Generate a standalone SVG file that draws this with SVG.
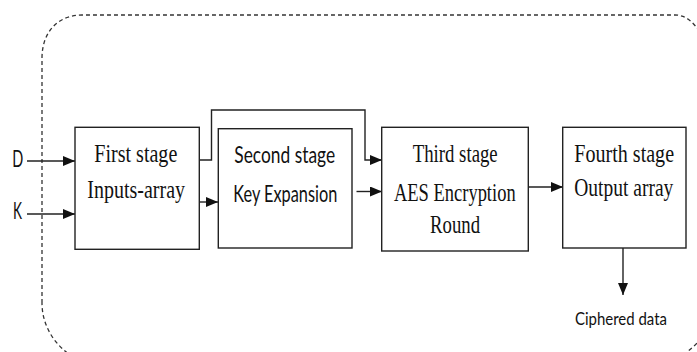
<svg xmlns="http://www.w3.org/2000/svg" width="697" height="352" viewBox="0 0 697 352">
  <style>
    .box { fill: #ffffff; stroke: #222222; stroke-width: 1.4; }
    .wire { fill: none; stroke: #222222; stroke-width: 1.4; }
    .frame { fill: none; stroke: #333333; stroke-width: 1.3; stroke-dasharray: 4 3; }
    .serif { font-family: "Liberation Serif", "Times New Roman", serif; font-size: 26px; fill: #111111; text-anchor: middle; }
    .sans { font-family: Lato, "Liberation Sans", sans-serif; font-size: 24px; fill: #111111; text-anchor: middle; }
    .small { font-family: Lato, "Liberation Sans", sans-serif; font-size: 17px; fill: #111111; text-anchor: middle; }
  </style>
  <defs>
    <marker id="arrow" viewBox="0 0 12 10" refX="12" refY="5" markerWidth="12" markerHeight="10" markerUnits="userSpaceOnUse" orient="auto">
      <path d="M0,0 L12,5 L0,10 Z" fill="#111111"/>
    </marker>
  </defs>

  <rect width="697" height="352" fill="#ffffff"/>

  <!-- dashed system boundary -->
  <path class="frame" d="M42,303 L42,58 C42,32 58,15 82,15 L675,15 C686,15 693,22 700,32 L712,60 L712,300 C712,330 700,345 675,360 L80,360 C60,352 42,330 42,303 Z"/>

  <!-- connectors -->
  <g id="connectors">
    <line class="wire" x1="27" y1="161" x2="75" y2="161" marker-end="url(#arrow)"/>
    <line class="wire" x1="27" y1="214" x2="75" y2="214" marker-end="url(#arrow)"/>
    <path class="wire" d="M199,160 L211.5,160 L211.5,110 L365,110 L365,160 L382,160" marker-end="url(#arrow)"/>
    <line class="wire" x1="199" y1="202" x2="218" y2="202" marker-end="url(#arrow)"/>
    <line class="wire" x1="356.5" y1="191.5" x2="382" y2="191.5" marker-end="url(#arrow)"/>
    <line class="wire" x1="528" y1="187" x2="563" y2="187" marker-end="url(#arrow)"/>
    <line class="wire" x1="623" y1="248" x2="623" y2="295" marker-end="url(#arrow)"/>
  </g>

  <!-- inputs -->
  <g id="input-d">
    <text class="sans" x="17.8" y="166.5" textLength="11" lengthAdjust="spacingAndGlyphs">D</text>
  </g>
  <g id="input-k">
    <text class="sans" x="17.5" y="219" textLength="9" lengthAdjust="spacingAndGlyphs">K</text>
  </g>

  <!-- stage 1 -->
  <g id="stage1">
    <rect class="box" x="75" y="127.3" width="124.3" height="122"/>
    <text class="serif" x="135.8" y="161.7" textLength="83" lengthAdjust="spacingAndGlyphs">First stage</text>
    <text class="serif" x="136.2" y="198.3" textLength="97.7" lengthAdjust="spacingAndGlyphs">Inputs-array</text>
  </g>

  <!-- stage 2 -->
  <g id="stage2">
    <rect class="box" x="218.3" y="128.7" width="133.7" height="119.3"/>
    <text class="sans" x="284.7" y="163.3" textLength="100.7" lengthAdjust="spacingAndGlyphs">Second stage</text>
    <text class="sans" x="285.3" y="202" font-size="22" textLength="104" lengthAdjust="spacingAndGlyphs">Key Expansion</text>
  </g>

  <!-- stage 3 -->
  <g id="stage3">
    <rect class="box" x="381.7" y="127.3" width="146.6" height="123.7"/>
    <text class="serif" x="455.2" y="161.7" textLength="85" lengthAdjust="spacingAndGlyphs">Third stage</text>
    <text class="serif" x="454.8" y="201" textLength="121.7" lengthAdjust="spacingAndGlyphs">AES Encryption</text>
    <text class="serif" x="455" y="233.3" textLength="50" lengthAdjust="spacingAndGlyphs">Round</text>
  </g>

  <!-- stage 4 -->
  <g id="stage4">
    <rect class="box" x="562.7" y="127.3" width="123.3" height="120.7"/>
    <text class="serif" x="624.2" y="161.7" font-size="22.5" textLength="99.7" lengthAdjust="spacingAndGlyphs">Fourth stage</text>
    <text class="serif" x="623.8" y="196" font-size="22.5" textLength="99" lengthAdjust="spacingAndGlyphs">Output array</text>
  </g>

  <!-- output label -->
  <g id="output">
    <text class="small" x="621" y="325" textLength="92" lengthAdjust="spacingAndGlyphs">Ciphered data</text>
  </g>
</svg>
